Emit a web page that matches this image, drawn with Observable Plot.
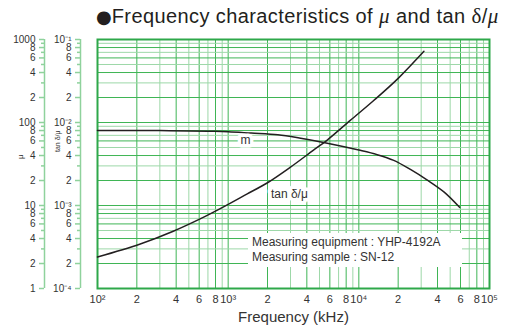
<!DOCTYPE html>
<html>
<head>
<meta charset="utf-8">
<script src="https://cdn.jsdelivr.net/npm/d3@7"></script>
<script src="https://cdn.jsdelivr.net/npm/@observablehq/plot@0.6"></script>
<style>
  body { margin: 0; background: #fff; font-family: "Liberation Sans", Arial, Helvetica, sans-serif; }
  #wrap { position: relative; width: 505px; height: 334px; overflow: hidden; }
  #title { position: absolute; left: 96px; top: 0; height: 30px; line-height: 30px; padding-top: 0.5px;
           font-size: 20px; color: #231f20; white-space: nowrap; letter-spacing: 0.4px; }
  #title .b { font-family: "DejaVu Sans", sans-serif; font-size: 18px; letter-spacing: 0; }
  #title .g { font-family: "Liberation Serif", "Times New Roman", serif; font-size: 21px; }
  #chart { position: absolute; left: 0; top: 30px; }
  #note { position: absolute; left: 248px; top: 233px; width: 214px; height: 34px; background: #fff;
          font-size: 12px; color: #333; line-height: 15px; padding: 1.5px 0 0 4px; box-sizing: border-box; white-space: nowrap; }
</style>
</head>
<body>
<div id="wrap">
  <div id="title"><span class="b">●</span>Frequency characteristics of <i class="g">μ</i> and tan <span class="g">δ</span>/<i class="g">μ</i></div>
  <div id="chart"></div>
  <div id="note">Measuring equipment : YHP-4192A<br>Measuring sample : SN-12</div>
</div>
<script>
// ---- data ----
const muFreq   = [100, 300, 700, 1000, 1500, 2400, 3500, 5500, 10000, 13800, 18500, 25000, 33000, 45000, 59000];
const muValues = [80, 80, 78.5, 77.5, 74.5, 71, 65, 57, 46.5, 41, 35, 27, 20.5, 14.5, 9.5];

const tanFreq   = [100, 210, 380, 610, 930, 1400, 2000, 3000, 4500, 5700, 8600, 13000, 20000, 31500];
const tanValues = [2.4e-4, 3.42e-4, 4.9e-4, 6.9e-4, 9.7e-4, 1.38e-3, 1.88e-3, 2.9e-3, 4.65e-3, 6.1e-3, 1.06e-2, 1.84e-2, 3.4e-2, 7.2e-2];

// tan δ/μ axis shares the grid: 1e-4 ↔ 1, 1e-1 ↔ 1000
const tanToMu = 1e4;

// ---- ticks ----
const freqTicks = [100, 200, 400, 600, 800, 1000, 2000, 4000, 6000, 8000, 10000, 20000, 40000, 60000, 80000, 100000];
const freqTickLabels = ["10²", "2", "4", "6", "8", "10³", "2", "4", "6", "8", "10⁴", "2", "4", "6", "8", "10⁵"];
const freqMinorTicks = [300, 500, 700, 900, 3000, 5000, 7000, 9000, 30000, 50000, 70000, 90000];

const yTicks = [1, 2, 4, 6, 8, 10, 20, 40, 60, 80, 100, 200, 400, 600, 800, 1000];
const muTickLabels  = ["1", "2", "4", "6", "8", "10", "2", "4", "6", "8", "100", "2", "4", "6", "8", "1000"];
const tanTickLabels = ["10⁻⁴", "2", "4", "6", "8", "10⁻³", "2", "4", "6", "8", "10⁻²", "2", "4", "6", "8", "10⁻¹"];
const yMinorTicks = [3, 5, 7, 9, 30, 50, 70, 90, 300, 500, 700, 900];

// ---- annotations ----
const curveLabels = [
  {f: 1360, v: 60.7, text: "m"},
  {f: 2940, v: 13.8, text: "tan δ/μ"}
];

// ---- styles ----
const darkGrid = "#3fb555";
const lightGrid = "#9dd8a8";
const frameGreen = "#2ea84a";
const axisGreen = "#8fd29c";
const ink = "#231f20";
const textGray = "#333";

const muData = muFreq.map((f, i) => ({f, v: muValues[i]}));
const tanData = tanFreq.map((f, i) => ({f, t: tanValues[i]}));

const plot = Plot.plot({
  width: 505,
  height: 304,
  marginTop: 9,
  marginBottom: 46,
  marginLeft: 97,
  marginRight: 16,
  style: {fontFamily: "'Liberation Sans', Arial, Helvetica, sans-serif", background: "white", overflow: "visible"},
  x: {type: "log", domain: [100, 100000], axis: null},
  y: {type: "log", domain: [1, 1000], axis: null},
  marks: [
    Plot.ruleX(freqMinorTicks, {stroke: lightGrid, strokeWidth: 1}),
    Plot.ruleX(freqTicks, {stroke: darkGrid, strokeWidth: 1}),
    Plot.ruleY(yMinorTicks, {stroke: lightGrid, strokeWidth: 1}),
    Plot.ruleY(yTicks, {stroke: darkGrid, strokeWidth: 1}),
    Plot.frame({stroke: frameGreen, strokeWidth: 2}),

    // μ axis (outer)
    Plot.ruleX([null], {x: null, y1: 1, y2: 1000, dx: -249, stroke: axisGreen, strokeWidth: 1.5}),
    Plot.axisY(yMinorTicks, {anchor: "left", dx: -53, tickSize: 3, text: () => "", stroke: axisGreen, strokeWidth: 1.5, label: null}),
    Plot.axisY(yTicks, {anchor: "left", dx: -53, tickSize: 5, tickPadding: 4, strokeWidth: 1.5,
      text: d => muTickLabels[yTicks.indexOf(d)], stroke: axisGreen, fill: textGray, fontSize: 10, label: null}),

    // tan δ/μ axis (inner)
    Plot.ruleX([null], {x: null, y1: 1, y2: 1000, dx: -213, stroke: axisGreen, strokeWidth: 1.5}),
    Plot.axisY(yMinorTicks, {anchor: "left", dx: -17, tickSize: 3, text: () => "", stroke: axisGreen, strokeWidth: 1.5, label: null}),
    Plot.axisY(yTicks, {anchor: "left", dx: -17, tickSize: 5, tickPadding: 4, strokeWidth: 1.5,
      text: d => tanTickLabels[yTicks.indexOf(d)], stroke: axisGreen, fill: textGray, fontSize: 10, label: null}),

    Plot.text(["μ"], {frameAnchor: "left", dx: -77, dy: -5, rotate: -90, fontSize: 8, fill: textGray}),
    Plot.text(["tan δ/μ"], {frameAnchor: "left", dx: -40, dy: -12, rotate: -90, fontSize: 7, fill: textGray}),

    // x axis
    Plot.axisX(freqTicks, {anchor: "bottom", tickSize: 0, tickPadding: 7,
      text: d => freqTickLabels[freqTicks.indexOf(d)], fill: textGray, fontSize: 11, label: null}),
    Plot.text(["Frequency (kHz)"], {frameAnchor: "bottom", dy: 33, fontSize: 15, fill: textGray}),

    // curves
    Plot.line(muData, {x: "f", y: "v", curve: "catmull-rom", stroke: ink, strokeWidth: 1.5}),
    Plot.line(tanData, {x: "f", y: d => d.t * tanToMu, curve: "catmull-rom", stroke: ink, strokeWidth: 1.5}),

    Plot.text(curveLabels, {x: "f", y: "v", text: "text", fontSize: 12, fill: textGray,
      stroke: "white", strokeWidth: 7, strokeLinejoin: "round"})
  ]
});
document.getElementById("chart").appendChild(plot);
</script>
</body>
</html>
